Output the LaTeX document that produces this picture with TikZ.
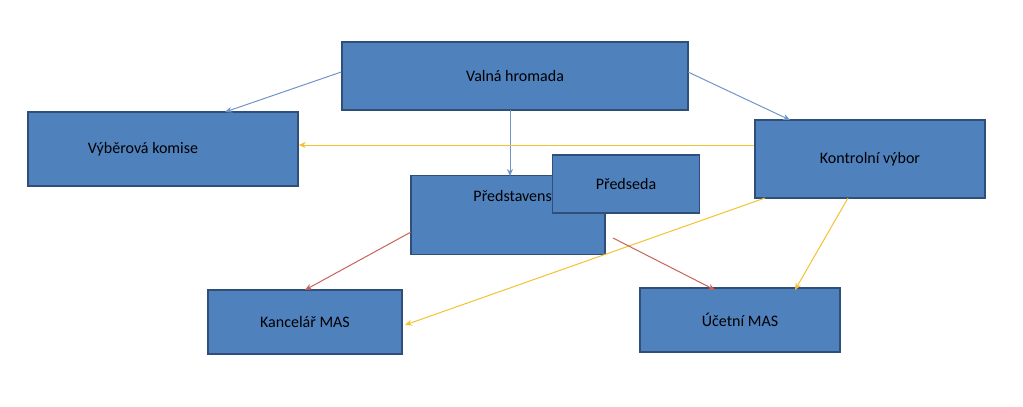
\documentclass[tikz,border=0pt]{standalone}
\usepackage{fontspec}
\setmainfont{Carlito}
\usetikzlibrary{arrows.meta}
\definecolor{boxfill}{HTML}{4F81BD}
\definecolor{boxline}{HTML}{2F4F7A}
\definecolor{ablue}{HTML}{6F95C8}
\definecolor{ayel}{HTML}{F2C230}
\definecolor{ared}{HTML}{C8625A}
\tikzset{
  box/.style={draw=boxline, line width=1.5pt, fill=boxfill, font=\fontsize{16}{18}\selectfont, text=black},
  con/.style={line width=1pt, -{Stealth[length=7pt,width=6pt]}}
}
\begin{document}
\begin{tikzpicture}[x=1pt,y=-1pt]
\useasboundingbox (0,0) rectangle (1023,407);
\node[box, minimum width=346pt, minimum height=68pt] (vh) at (515,76) {Valná hromada};
\node[box, minimum width=270pt, minimum height=74pt] (vk) at (163,149) {\hspace*{-40pt}Výběrová komise};
\node[box, minimum width=230pt, minimum height=78pt] (kv) at (870,159) {Kontrolní výbor};
\node[box, minimum width=194pt, minimum height=79pt, align=left] (pr) at (508,215) {\hspace*{30pt}Představenstvo\\[20pt]};
\node[box, minimum width=147pt, minimum height=58pt] (pd) at (626,184) {Předseda};
\node[box, minimum width=194pt, minimum height=64pt] (km) at (305,322) {Kancelář MAS};
\node[box, minimum width=200pt, minimum height=64pt] (um) at (740,320) {Účetní MAS};
\draw[con, ablue] (vh.west |- 0,72) ++(0,0) coordinate (a1) -- (225,112);
\draw[con, ablue] (688,72) -- (790,120);
\draw[con, ablue] (510,110) -- (510,176);
\draw[con, ayel] (kv.west |- 0,145) -- (vk.east |- 0,145);
\draw[con, ayel] (765,198) -- (405,325);
\draw[con, ayel] (848,198) -- (795,290);
\draw[con, ared] (411,232) -- (305,290);
\draw[con, ared] (613,238) -- (715,290);
\end{tikzpicture}
\end{document}
